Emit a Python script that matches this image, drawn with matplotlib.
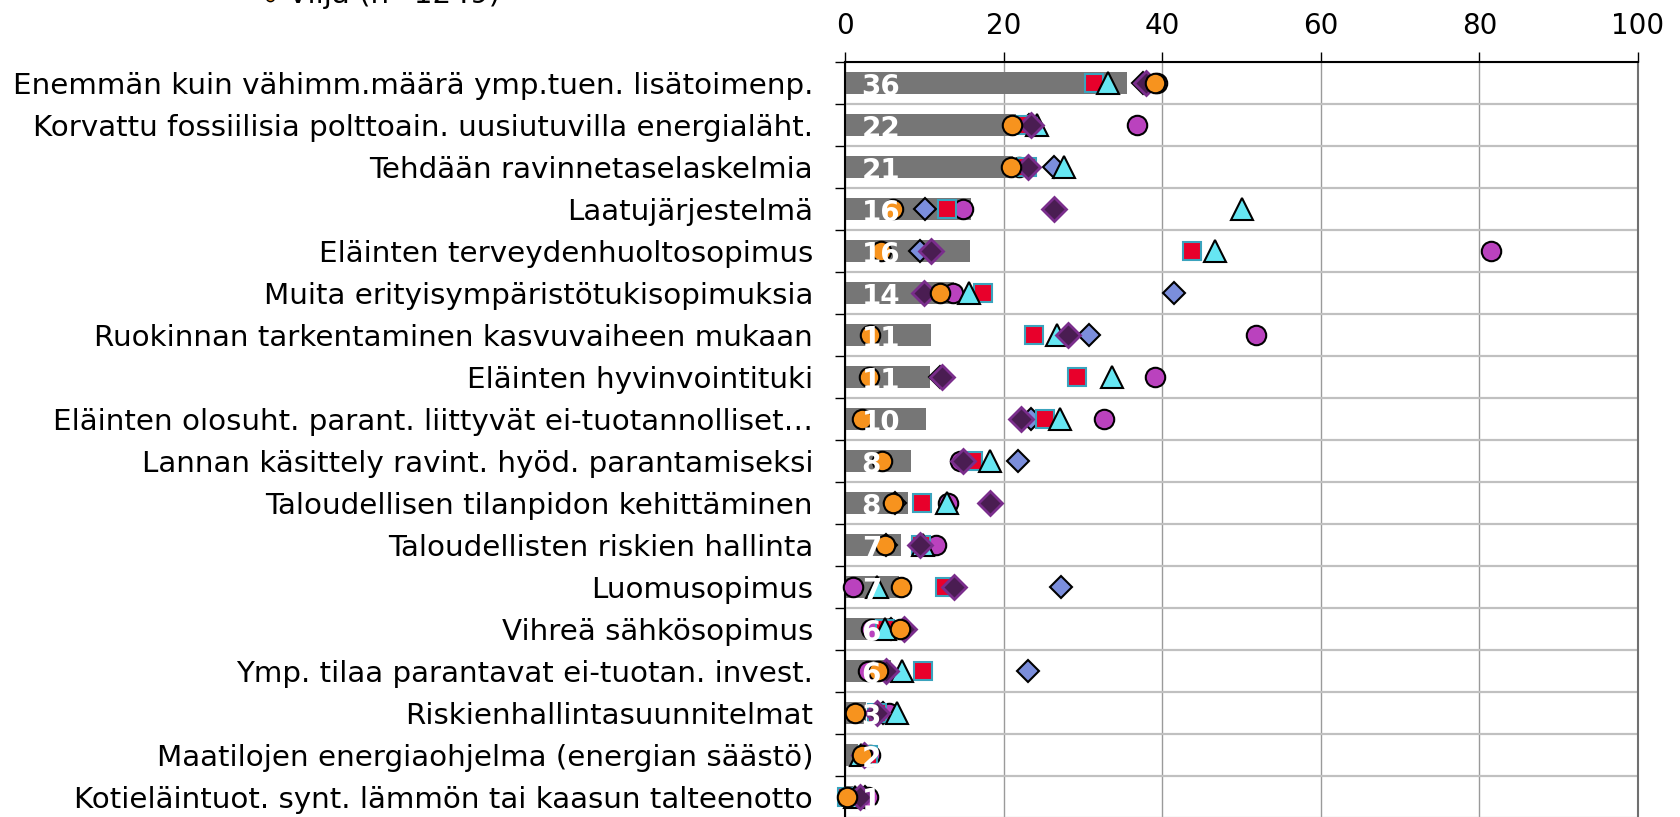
import matplotlib.pyplot as plt
from matplotlib.lines import Line2D

categories = [
    "Enemmän kuin vähimm.määrä ymp.tuen. lisätoimenp.",
    "Korvattu fossiilisia polttoain. uusiutuvilla energialäht.",
    "Tehdään ravinnetaselaskelmia",
    "Laatujärjestelmä",
    "Eläinten terveydenhuoltosopimus",
    "Muita erityisympäristötukisopimuksia",
    "Ruokinnan tarkentaminen kasvuvaiheen mukaan",
    "Eläinten hyvinvointituki",
    "Eläinten olosuht. parant. liittyvät ei-tuotannolliset…",
    "Lannan käsittely ravint. hyöd. parantamiseksi",
    "Taloudellisen tilanpidon kehittäminen",
    "Taloudellisten riskien hallinta",
    "Luomusopimus",
    "Vihreä sähkösopimus",
    "Ymp. tilaa parantavat ei-tuotan. invest.",
    "Riskienhallintasuunnitelmat",
    "Maatilojen energiaohjelma (energian säästö)",
    "Kotieläintuot. synt. lämmön tai kaasun talteenotto",
]

# kaikki tilat (harmaa palkki)
bar_values = [35.6, 21.6, 21.2, 15.9, 15.8, 13.8, 10.8, 10.7, 10.2, 8.3, 7.9,
              7.0, 6.8, 6.1, 5.8, 2.6, 1.6, 1.0]

# sarjat (vain "Vilja" näkyy kuvan legendassa)
vilja = [39.1, 21.0, 20.9, 6.0, 4.6, 12.0, 3.1, 3.0, 2.2, 4.7, 6.0, 5.0, 7.1,
         6.9, 4.2, 1.2, 2.1, 0.3]
magenta_circle = [39.4, 36.8, 22.0, 14.9, 81.4, 13.6, 51.8, 39.1, 32.7, 14.5,
                  13.0, 11.5, 1.0, 3.3, 2.9, 5.6, 3.1, 2.9]
red_square = [31.4, 22.2, 23.0, 12.8, 43.8, 17.4, 23.8, 29.3, 25.2, 16.2, 9.7,
              9.6, 12.6, 5.0, 9.8, 4.0, 2.9, 0.2]
cyan_triangle = [33.2, 24.2, 27.6, 50.1, 46.7, 15.6, 26.7, 33.7, 27.1, 18.3,
                 12.8, 9.8, 4.0, 5.0, 7.2, 6.6, 2.0, 1.2]
blue_diamond = [37.6, 23.2, 26.3, 10.1, 9.4, 41.5, 30.8, 12.0, 23.5, 21.8, 6.3,
                5.2, 27.3, 5.8, 23.1, 4.8, 2.5, 2.5]
purple_diamond = [37.9, 23.5, 23.1, 26.4, 10.9, 9.9, 28.1, 12.2, 22.2, 14.9,
                  18.3, 9.4, 13.8, 7.5, 5.2, 4.0, 2.4, 1.9]

x_ticks = [0, 20, 40, 60, 80, 100]


def main():
    plt.rcParams['font.family'] = ['DejaVu Sans']
    fig = plt.figure(figsize=(16.81, 8.17), dpi=100)
    ax = fig.add_axes([845 / 1681, 1 - 818 / 817, (1638 - 845) / 1681, 756 / 817])

    y = list(range(len(categories)))
    ax.barh(y, bar_values, height=0.54, color='#767676', zorder=2)
    for yi, v in zip(y, bar_values):
        ax.text(2.1, yi + 0.02, f"{v:.0f}", color='white', fontsize=20,
                fontweight='bold', ha='left', va='center_baseline', zorder=10)

    # merkit, piirtojärjestys alhaalta ylös
    series = [
        (blue_diamond, dict(marker='D', ms=11.5, mfc='#7B8EDC', mec='black', mew=1.5)),
        (magenta_circle, dict(marker='o', ms=14, mfc='#BA42BE', mec='black', mew=1.5)),
        (red_square, dict(marker='s', ms=13, mfc='#E8002B', mec='#3AA3BD', mew=1.5)),
        (cyan_triangle, dict(marker='^', ms=16, mfc='#66E6F2', mec='black', mew=1.5)),
        (purple_diamond, dict(marker='D', ms=12, mfc='#4A1D52', mec='#7A2D8C', mew=2)),
        (vilja, dict(marker='o', ms=14, mfc='#F7931E', mec='black', mew=1.5)),
    ]
    for i, (vals, style) in enumerate(series):
        ax.plot(vals, y, ls='none', clip_on=False, zorder=3 + i, **style)

    ax.set_xlim(0, 100)
    ax.set_ylim(len(categories) - 0.5, -0.5)
    ax.xaxis.tick_top()
    ax.set_xticks(x_ticks)
    ax.tick_params(axis='x', which='major', length=7.2, width=1, pad=9,
                   labelsize=20)
    ax.set_yticks(y)
    ax.set_yticklabels(categories)
    ax.set_yticks([v - 0.5 for v in range(len(categories) + 1)], minor=True)
    ax.tick_params(axis='y', which='major', length=0, pad=23, labelsize=21.2)
    ax.tick_params(axis='y', which='minor', length=7.2, width=1)

    ax.grid(axis='x', which='major', color='#9A9A9A', lw=1)
    ax.grid(axis='y', which='minor', color='#C0C0C0', lw=1.6)
    ax.set_axisbelow(True)
    ax.spines['bottom'].set_visible(False)
    ax.spines['top'].set_linewidth(1.5)
    ax.spines['left'].set_linewidth(1.5)
    ax.spines['right'].set_color('#707070')
    ax.spines['right'].set_linewidth(1.5)

    # legenda (leikkautunut kuvan yläreunasta)
    fig.add_artist(Line2D([270 / 1681], [1 + 3 / 817], marker='o', ms=6,
                          mfc='#F7931E', mec='black', mew=1,
                          transform=fig.transFigure))
    fig.text(288 / 1681, 1 - 3 / 817, "Vilja (n=1249)", fontsize=21.2,
             va='baseline', ha='left')

    fig.savefig('out.png', dpi=100)


if __name__ == "__main__":
    main()
